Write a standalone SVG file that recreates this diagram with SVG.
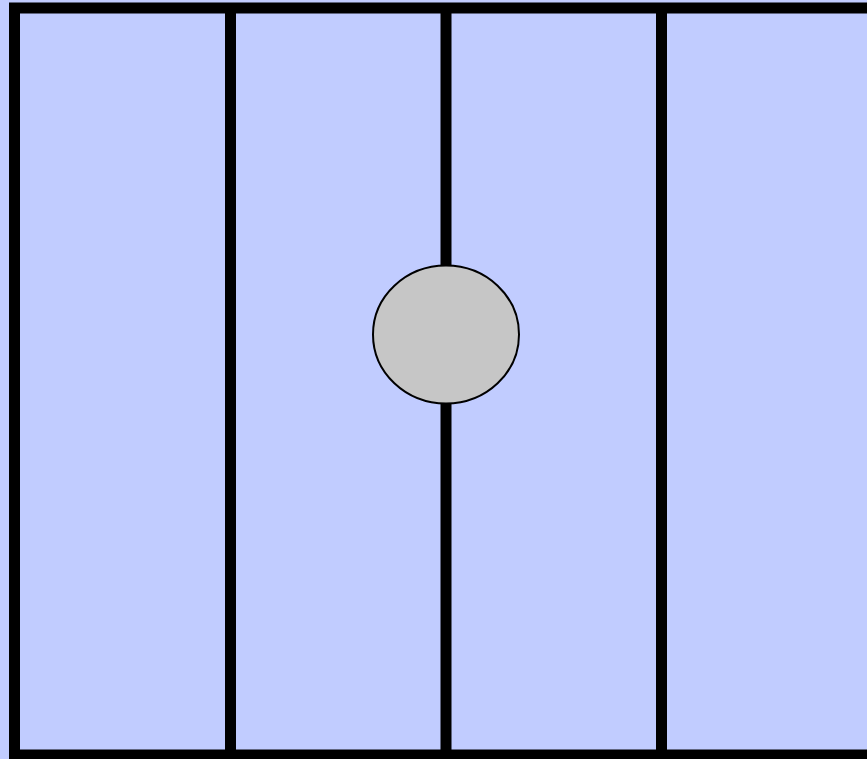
<svg xmlns="http://www.w3.org/2000/svg" width="867" height="759" viewBox="0 0 867 759">
<style>
.wall{stroke:#000;stroke-width:11;fill:none}
.node{fill:#c6c6c6;stroke:#000;stroke-width:2}
</style>
<rect x="0" y="0" width="867" height="759" fill="#c1ccff"/>
<g id="frame">
<rect class="wall" x="14.5" y="8" width="862" height="747"/>
</g>
<g id="connectors">
<line class="wall" x1="230.5" y1="8" x2="230.5" y2="755"/>
<line class="wall" x1="446" y1="8" x2="446" y2="755"/>
<line class="wall" x1="661.5" y1="8" x2="661.5" y2="755"/>
</g>
<g id="node-circle">
<ellipse class="node" cx="446" cy="334.5" rx="73" ry="69"/>
</g>
</svg>
